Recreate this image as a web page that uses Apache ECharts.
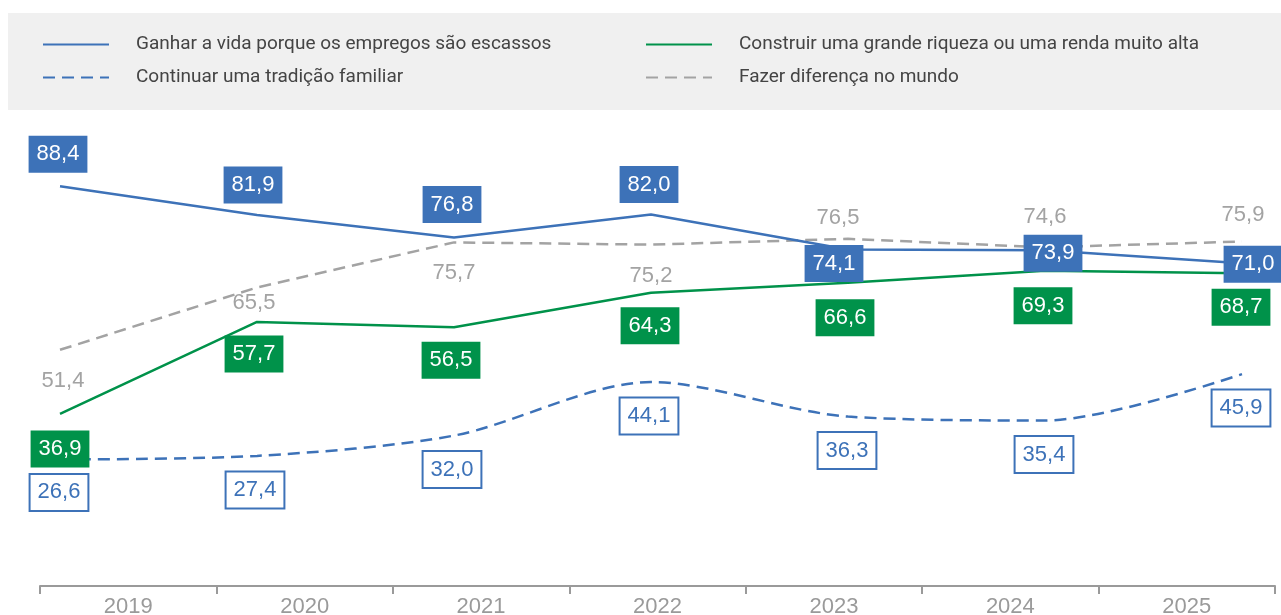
<!DOCTYPE html>
<html>
<head>
<meta charset="utf-8">
<script src="https://cdn.jsdelivr.net/npm/echarts@6/dist/echarts.min.js"></script>
<style>
  html, body { margin: 0; padding: 0; background: #fff; }
  #chart { width: 1281px; height: 615px; }
</style>
</head>
<body>
<div id="chart"></div>
<script>
const years = ["2019", "2020", "2021", "2022", "2023", "2024", "2025"];
const ganharVida = [88.4, 81.9, 76.8, 82.0, 74.1, 73.9, 71.0];
const tradicao = [26.6, 27.4, 32.0, 44.1, 36.3, 35.4, 45.9];
const riqueza = [36.9, 57.7, 56.5, 64.3, 66.6, 69.3, 68.7];
const diferenca = [51.4, 65.5, 75.7, 75.2, 76.5, 74.6, 75.9];

// label placement around each point [dx, dy]
const offGanhar = [[-2,-32],[-4,-30],[-2,-33],[-2,-30],[-14,14],[8,3],[11,1]];
const offTradicao = [[-1,33],[-2,34],[-2,34],[-2,34],[-1,34],[-1,34],[-1,34]];
const offRiqueza = [[0,35],[-3,32],[-3,33],[-1,33],[-3,35],[-2,35],[-1,34]];
const offDiferenca = [[3,31],[-3,15],[0,31],[0,31],[-10,-21],[0,-30],[1,-27]];

const BLUE = "#3d72b8", GREEN = "#00924a", GRAY = "#a3a3a3";
const NONE = "rgba(0,0,0,0)";
const fmt = p => p.value.toFixed(1).replace(".", ",");

function withLabels(values, offsets) {
  return values.map((v, i) => ({ value: v, label: { offset: offsets[i] } }));
}

const legendText = { fontFamily: "Roboto", fontSize: 19, color: "#444", padding: [0, 0, 0, 22] };

const chart = echarts.init(document.getElementById("chart"));
chart.setOption({
  animation: false,
  graphic: [{
    type: "rect", left: 8, top: 13, z: -10,
    shape: { width: 1273, height: 97 },
    style: { fill: "#f0f0f0" }
  }],
  legend: [
    {
      data: ["Ganhar a vida porque os empregos são escassos", "Continuar uma tradição familiar"],
      orient: "vertical", left: 37, top: 30, itemGap: 14,
      itemWidth: 66, itemHeight: 14,
      textStyle: legendText
    },
    {
      data: ["Construir uma grande riqueza ou uma renda muito alta", "Fazer diferença no mundo"],
      orient: "vertical", left: 640, top: 30, itemGap: 14,
      itemWidth: 66, itemHeight: 14,
      textStyle: legendText
    }
  ],
  grid: [
    { left: 60, right: 39, top: 135, bottom: 38, outerBoundsMode: "none" },
    { left: 40, right: 6, top: 560, bottom: 29, outerBoundsMode: "none" }
  ],
  xAxis: [
    { type: "category", data: years, boundaryGap: false, gridIndex: 0, show: false },
    {
      type: "category", data: years, boundaryGap: true, gridIndex: 1,
      axisLine: { lineStyle: { color: "#9a9a9a", width: 2 } },
      axisTick: { show: true, length: 8, lineStyle: { color: "#9a9a9a", width: 2 } },
      axisLabel: { color: "#9a9a9a", fontSize: 22, margin: 10, fontFamily: "Liberation Sans" }
    }
  ],
  yAxis: [
    { type: "value", min: 0, max: 100, gridIndex: 0, show: false },
    { type: "value", gridIndex: 1, show: false }
  ],
  series: [
    {
      name: "Fazer diferença no mundo", type: "line", z: 2,
      data: withLabels(diferenca, offDiferenca),
      symbol: "circle", symbolSize: 1, itemStyle: { color: NONE },
      lineStyle: { color: GRAY, width: 2.5, type: [12, 7] },
      label: { show: true, position: "inside", formatter: fmt, color: GRAY, fontSize: 22, fontFamily: "Liberation Sans" }
    },
    {
      name: "Construir uma grande riqueza ou uma renda muito alta", type: "line", z: 3,
      data: withLabels(riqueza, offRiqueza),
      symbol: "circle", symbolSize: 1, itemStyle: { color: NONE },
      lineStyle: { color: GREEN, width: 2.5 },
      label: {
        show: true, position: "inside", formatter: fmt, color: "#fff", fontSize: 22, fontFamily: "Liberation Sans",
        backgroundColor: GREEN, padding: [8, 8, 7, 8]
      }
    },
    {
      name: "Continuar uma tradição familiar", type: "line", z: 3, smooth: 0.3,
      data: withLabels(tradicao, offTradicao),
      symbol: "circle", symbolSize: 1, itemStyle: { color: NONE },
      lineStyle: { color: BLUE, width: 2.5, type: [12, 7] },
      label: {
        show: true, position: "inside", formatter: fmt, color: BLUE, fontSize: 22, fontFamily: "Liberation Sans",
        backgroundColor: "#fff", borderColor: BLUE, borderWidth: 2, padding: [7, 7, 6, 7]
      }
    },
    {
      name: "Ganhar a vida porque os empregos são escassos", type: "line", z: 4,
      data: withLabels(ganharVida, offGanhar),
      symbol: "circle", symbolSize: 1, itemStyle: { color: NONE },
      lineStyle: { color: BLUE, width: 2.5 },
      label: {
        show: true, position: "inside", formatter: fmt, color: "#fff", fontSize: 22, fontFamily: "Liberation Sans",
        backgroundColor: BLUE, padding: [8, 8, 7, 8]
      }
    }
  ]
});
</script>
</body>
</html>
